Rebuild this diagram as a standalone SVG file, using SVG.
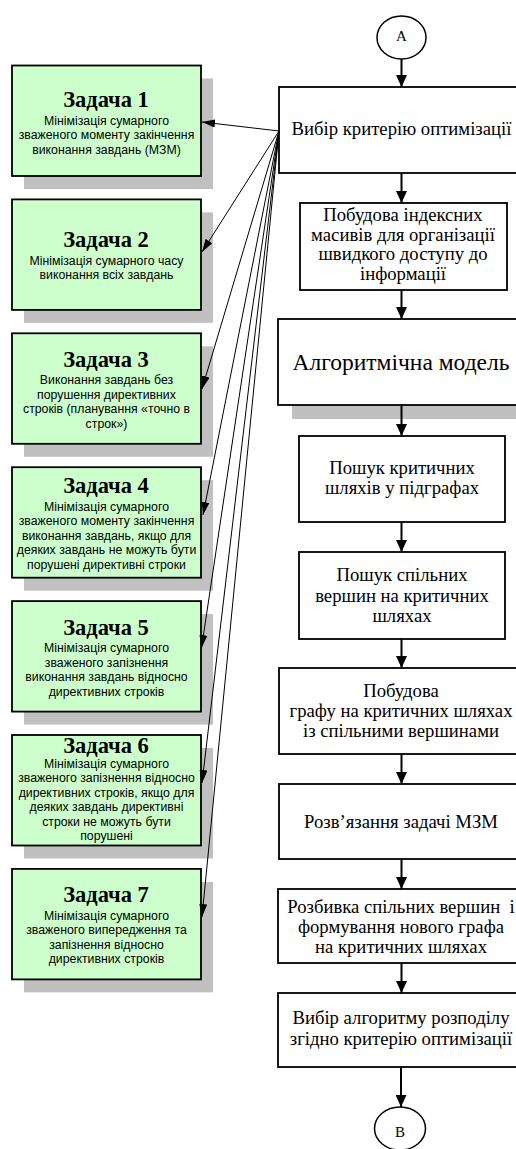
<svg xmlns="http://www.w3.org/2000/svg" width="516" height="1149" viewBox="0 0 516 1149">
<style>
.gbox{fill:#ccffcc;stroke:#000;stroke-width:1.8}
.shadow{fill:#c0c0c0;stroke:none}
.wbox{fill:#fff;stroke:#000;stroke-width:1.8}
.circ{fill:#fff;stroke:#000;stroke-width:1.5}
.title{font-family:"Liberation Serif",serif;font-weight:bold;font-size:22.5px;text-anchor:middle;fill:#000}
.body{font-family:"Liberation Sans",Arial,sans-serif;font-size:12.3px;text-anchor:middle;fill:#000}
.rt{font-family:"Liberation Serif",serif;font-size:18.7px;text-anchor:middle;fill:#000;white-space:pre}
.rtb{font-family:"Liberation Serif",serif;font-size:23.5px;text-anchor:middle;fill:#000}
.ct{font-family:"Liberation Serif",serif;font-size:15px;text-anchor:middle;fill:#000}
.fan{stroke:#000;stroke-width:1;fill:none;marker-end:url(#ah)}
.vert{stroke:#000;stroke-width:2;fill:none;marker-end:url(#vh)}
</style>
<defs>
<marker id="ah" viewBox="0 0 13 8" markerWidth="13" markerHeight="8" refX="13" refY="4" orient="auto" markerUnits="userSpaceOnUse"><path d="M0,0 L13,4 L0,8 z" fill="#000"/></marker>
<marker id="vh" viewBox="0 0 12 11" markerWidth="12" markerHeight="11" refX="12" refY="5.5" orient="auto" markerUnits="userSpaceOnUse"><path d="M0,0 L12,5.5 L0,11 z" fill="#000"/></marker>
</defs>
<rect width="516" height="1149" fill="#fff"/>

<g id="z1">
<rect class="shadow" x="24" y="78.5" width="189" height="110.5"/>
<rect class="gbox" x="12" y="65.5" width="189" height="110.5"/>
<text class="title" x="106" y="106.5">Задача 1</text>
<text class="body" x="106.5" y="124.5">Мінімізація сумарного</text>
<text class="body" x="106.5" y="139">зваженого моменту закінчення</text>
<text class="body" x="106.5" y="153.5">виконання завдань (МЗМ)</text>
</g>
<g id="z2">
<rect class="shadow" x="24" y="212.4" width="189" height="110.5"/>
<rect class="gbox" x="12" y="199.4" width="189" height="110.5"/>
<text class="title" x="106" y="247.4">Задача 2</text>
<text class="body" x="106.5" y="264.9">Мінімізація сумарного часу</text>
<text class="body" x="106.5" y="279.4">виконання всіх завдань</text>
</g>
<g id="z3">
<rect class="shadow" x="24" y="346.3" width="189" height="110.5"/>
<rect class="gbox" x="12" y="333.3" width="189" height="110.5"/>
<text class="title" x="106" y="366.8">Задача 3</text>
<text class="body" x="106.5" y="384.3">Виконання завдань без</text>
<text class="body" x="106.5" y="398.8">порушення директивних</text>
<text class="body" x="106.5" y="413.3">строків (планування «точно в</text>
<text class="body" x="106.5" y="427.8">строк»)</text>
</g>
<g id="z4">
<rect class="shadow" x="24" y="480.2" width="189" height="110.5"/>
<rect class="gbox" x="12" y="467.2" width="189" height="110.5"/>
<text class="title" x="106" y="493.4">Задача 4</text>
<text class="body" x="106.5" y="510.9">Мінімізація сумарного</text>
<text class="body" x="106.5" y="525.4">зваженого моменту закінчення</text>
<text class="body" x="106.5" y="539.9">виконання завдань, якщо для</text>
<text class="body" x="106.5" y="554.4">деяких завдань не можуть бути</text>
<text class="body" x="106.5" y="568.9">порушені директивні строки</text>
</g>
<g id="z5">
<rect class="shadow" x="24" y="614.1" width="189" height="110.5"/>
<rect class="gbox" x="12" y="601.1" width="189" height="110.5"/>
<text class="title" x="106" y="634.6">Задача 5</text>
<text class="body" x="106.5" y="652.1">Мінімізація сумарного</text>
<text class="body" x="106.5" y="666.6">зваженого запізнення</text>
<text class="body" x="106.5" y="681.1">виконання завдань відносно</text>
<text class="body" x="106.5" y="695.6">директивних строків</text>
</g>
<g id="z6">
<rect class="shadow" x="24" y="748" width="189" height="110.5"/>
<rect class="gbox" x="12" y="735" width="189" height="110.5"/>
<text class="title" x="106" y="753">Задача 6</text>
<text class="body" x="106.5" y="767.5">Мінімізація сумарного</text>
<text class="body" x="106.5" y="782">зваженого запізнення відносно</text>
<text class="body" x="106.5" y="796.5">директивних строків, якщо для</text>
<text class="body" x="106.5" y="811">деяких завдань директивні</text>
<text class="body" x="106.5" y="825.5">строки не можуть бути</text>
<text class="body" x="106.5" y="840">порушені</text>
</g>
<g id="z7">
<rect class="shadow" x="24" y="881.9" width="189" height="110.5"/>
<rect class="gbox" x="12" y="868.9" width="189" height="110.5"/>
<text class="title" x="106" y="902.4">Задача 7</text>
<text class="body" x="106.5" y="919.9">Мінімізація сумарного</text>
<text class="body" x="106.5" y="934.4">зваженого випередження та</text>
<text class="body" x="106.5" y="948.9">запізнення відносно</text>
<text class="body" x="106.5" y="963.4">директивних строків</text>
</g>

<g id="cA">
<ellipse class="circ" cx="401.5" cy="37.5" rx="24.5" ry="21.5"/>
<text class="ct" x="401.5" y="40.5">A</text>
</g>
<g id="b1">
<rect class="wbox" x="279" y="87" width="246" height="86"/>
<text class="rt" x="401.5" y="135">Вибір критерію оптимізації</text>
</g>
<g id="b2">
<rect class="wbox" x="300" y="203" width="207" height="87"/>
<text class="rt" x="403" y="221">Побудова індексних</text>
<text class="rt" x="403" y="240.5">масивів для організації</text>
<text class="rt" x="403" y="260">швидкого доступу до</text>
<text class="rt" x="403" y="279.5">інформації</text>
</g>
<g id="b3">
<rect class="shadow" x="292" y="333" width="247" height="86"/>
<rect class="wbox" x="278" y="319" width="247" height="86"/>
<text class="rtb" x="401" y="370">Алгоритмічна модель</text>
</g>
<g id="b4">
<rect class="wbox" x="299" y="436" width="206" height="86"/>
<text class="rt" x="402" y="474">Пошук критичних</text>
<text class="rt" x="402" y="494">шляхів у підграфах</text>
</g>
<g id="b5">
<rect class="wbox" x="299" y="552" width="206" height="87"/>
<text class="rt" x="402" y="581">Пошук спільних</text>
<text class="rt" x="402" y="601.5">вершин на критичних</text>
<text class="rt" x="402" y="622">шляхах</text>
</g>
<g id="b6">
<rect class="wbox" x="279" y="668" width="246" height="86"/>
<text class="rt" x="401" y="697">Побудова</text>
<text class="rt" x="401" y="717">графу на критичних шляхах</text>
<text class="rt" x="401" y="737">із спільними вершинами</text>
</g>
<g id="b7">
<rect class="wbox" x="279" y="784" width="246" height="75"/>
<text class="rt" x="401" y="828">Розв’язання задачі МЗМ</text>
</g>
<g id="b8">
<rect class="wbox" x="278" y="889" width="246" height="74"/>
<text class="rt" x="401" y="913">Розбивка спільних вершин  і</text>
<text class="rt" x="401" y="933">формування нового графа</text>
<text class="rt" x="401" y="953">на критичних шляхах</text>
</g>
<g id="b9">
<rect class="wbox" x="278" y="993" width="246" height="74"/>
<text class="rt" x="401" y="1024">Вибір алгоритму розподілу</text>
<text class="rt" x="401" y="1045">згідно критерію оптимізації</text>
</g>
<g id="cB">
<ellipse class="circ" cx="400" cy="1128.5" rx="25.5" ry="21.5"/>
<text class="ct" x="400" y="1137">B</text>
</g>

<g id="connectors">
<line class="vert" x1="401.5" y1="59" x2="401.5" y2="87"/>
<line class="vert" x1="401.5" y1="173" x2="401.5" y2="203"/>
<line class="vert" x1="401.5" y1="290" x2="401.5" y2="319"/>
<line class="vert" x1="401.5" y1="405" x2="401.5" y2="436"/>
<line class="vert" x1="401.5" y1="522" x2="401.5" y2="552"/>
<line class="vert" x1="401.5" y1="639" x2="401.5" y2="668"/>
<line class="vert" x1="401.5" y1="754" x2="401.5" y2="784"/>
<line class="vert" x1="401.5" y1="859" x2="401.5" y2="889"/>
<line class="vert" x1="401.5" y1="963" x2="401.5" y2="993"/>
<line class="vert" x1="401" y1="1067" x2="401" y2="1107"/>
<line class="fan" x1="279" y1="131" x2="202" y2="122"/>
<line class="fan" x1="279" y1="131" x2="202" y2="252"/>
<line class="fan" x1="279" y1="131" x2="202" y2="389"/>
<line class="fan" x1="279" y1="131" x2="203" y2="515"/>
<line class="fan" x1="279" y1="131" x2="201.5" y2="648"/>
<line class="fan" x1="279" y1="131" x2="202" y2="783"/>
<line class="fan" x1="279" y1="131" x2="202" y2="917"/>
</g>
</svg>
